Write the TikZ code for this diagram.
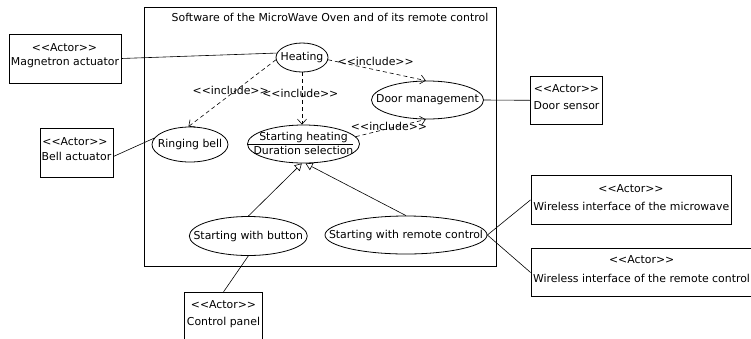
\documentclass[tikz,border=0pt]{standalone}
\usepackage{fontspec}
\setmainfont{DejaVu Sans}
\usetikzlibrary{shapes.geometric,arrows.meta}
\newcommand\actorlbl{<{}<Actor>{}>}
\newcommand\inclbl{<{}<include>{}>}
\newcommand\nw[1]{\makebox[0pt]{#1}}
\begin{document}
\begin{tikzpicture}[x=1pt,y=-1pt,
  font=\fontsize{10.9}{13}\selectfont,
  uc/.style={ellipse, draw, inner sep=0pt, line width=0.8pt},
  actorbox/.style={draw, rectangle, inner sep=0pt, line width=0.8pt},
  txt/.style={inner sep=0pt},
  assoc/.style={line width=0.6pt},
  incl/.style={line width=0.6pt, dash pattern=on 4pt off 3pt, -{Straight Barb[length=5pt,width=9pt]}},
  gen/.style={line width=0.6pt, -{Triangle[open,length=7pt,width=8pt]}}]
\useasboundingbox (0,0) rectangle (751,338);
\clip (0,0) rectangle (751,338);
\fill[white] (0,0) rectangle (751,338);
% system boundary
\node[draw, line width=0.8pt, minimum width=352, minimum height=259, anchor=north west, inner sep=0pt] (sys) at (144,7) {};
\node[txt] (title) at (330,17) {Software of the MicroWave Oven and of its remote control};
% use cases
\node[uc, minimum width=52, minimum height=29] (heat) at (302,57.5) {\nw{Heating}};
\node[uc, minimum width=76, minimum height=35] (bell) at (190,144.5) {\nw{Ringing bell}};
\node[uc, minimum width=112, minimum height=38] (sh) at (303.5,144) {};
\node[txt] (shA) at (303.5,137) {Starting heating};
\node[txt] (shB) at (303.5,150.3) {Duration selection};
\node[uc, minimum width=112, minimum height=38] (dm) at (427.5,100) {\nw{Door management}};
\node[uc, minimum width=118, minimum height=39] (btn) at (248.3,236) {\nw{Starting with button}};
\node[uc, minimum width=162, minimum height=38] (rem) at (406,235) {\nw{Starting with remote control}};
\draw[line width=0.6pt] ([yshift=-0.5pt]sh.west) -- ([xshift=-7pt,yshift=-0.5pt]sh.east);
% actors
\node[actorbox, minimum width=112, minimum height=49] (mag) at (65,58.5) {};
\node[txt] (magS) at (64.5,48) {\actorlbl};
\node[txt] (magN) at (65,63) {Magnetron actuator};
\node[actorbox, minimum width=73, minimum height=49] (bellA) at (76.5,152.5) {};
\node[txt] (bellS) at (75,141.7) {\actorlbl};
\node[txt] (bellN) at (76.5,156.7) {Bell actuator};
\node[actorbox, minimum width=71.5, minimum height=48] (ds) at (566.5,100.3) {};
\node[txt] (dsS) at (566.5,89) {\actorlbl};
\node[txt] (dsN) at (566.5,106) {Door sensor};
\node[actorbox, minimum width=78.4, minimum height=60] (cp) at (223.5,322.3) {};
\node[txt] (cpS) at (223.5,304.3) {\actorlbl};
\node[txt] (cpN) at (223.5,322.3) {Control panel};
\node[actorbox, minimum width=200.7, minimum height=48.3] (wm) at (631.3,199.9) {};
\node[txt] (wmS) at (631,188.3) {\actorlbl};
\node[txt] (wmN) at (631.3,206) {Wireless interface of the microwave};
\node[actorbox, minimum width=224, minimum height=48.4] (wrc) at (643,272.5) {};
\node[txt] (wrcS) at (641.7,260) {\actorlbl};
\node[txt] (wrcN) at (641.5,278.3) {Wireless interface of the remote control};
% associations
\draw[assoc] (mag.east) -- (heat.170);
\draw[assoc] ([yshift=-4pt]bellA.east) -- (bell.170);
\draw[assoc] (dm.east) -- (ds.west);
\draw[assoc] (btn.south) -- (cp.north);
\draw[assoc] (rem.east) -- (wm.west);
\draw[assoc] (rem.east) -- (wrc.west);
% includes
\draw[incl] (heat.185) -- (bell.95);
\draw[incl] (heat.south) -- (heat.south |- sh.north);
\draw[incl] (heat.-5) -- (dm.95);
\draw[incl] (sh.8) -- (dm.265);
\node[txt] (i1) at (230.7,90) {\inclbl};
\node[txt] (i2) at (300.3,93.3) {\inclbl};
\node[txt] (i3) at (375.7,61.7) {\inclbl};
\node[txt] (i4) at (389,126.7) {\inclbl};
% generalizations
\draw[gen] (btn.north) -- (sh.265);
\draw[gen] (rem.north) -- (sh.276);
\end{tikzpicture}
\end{document}
